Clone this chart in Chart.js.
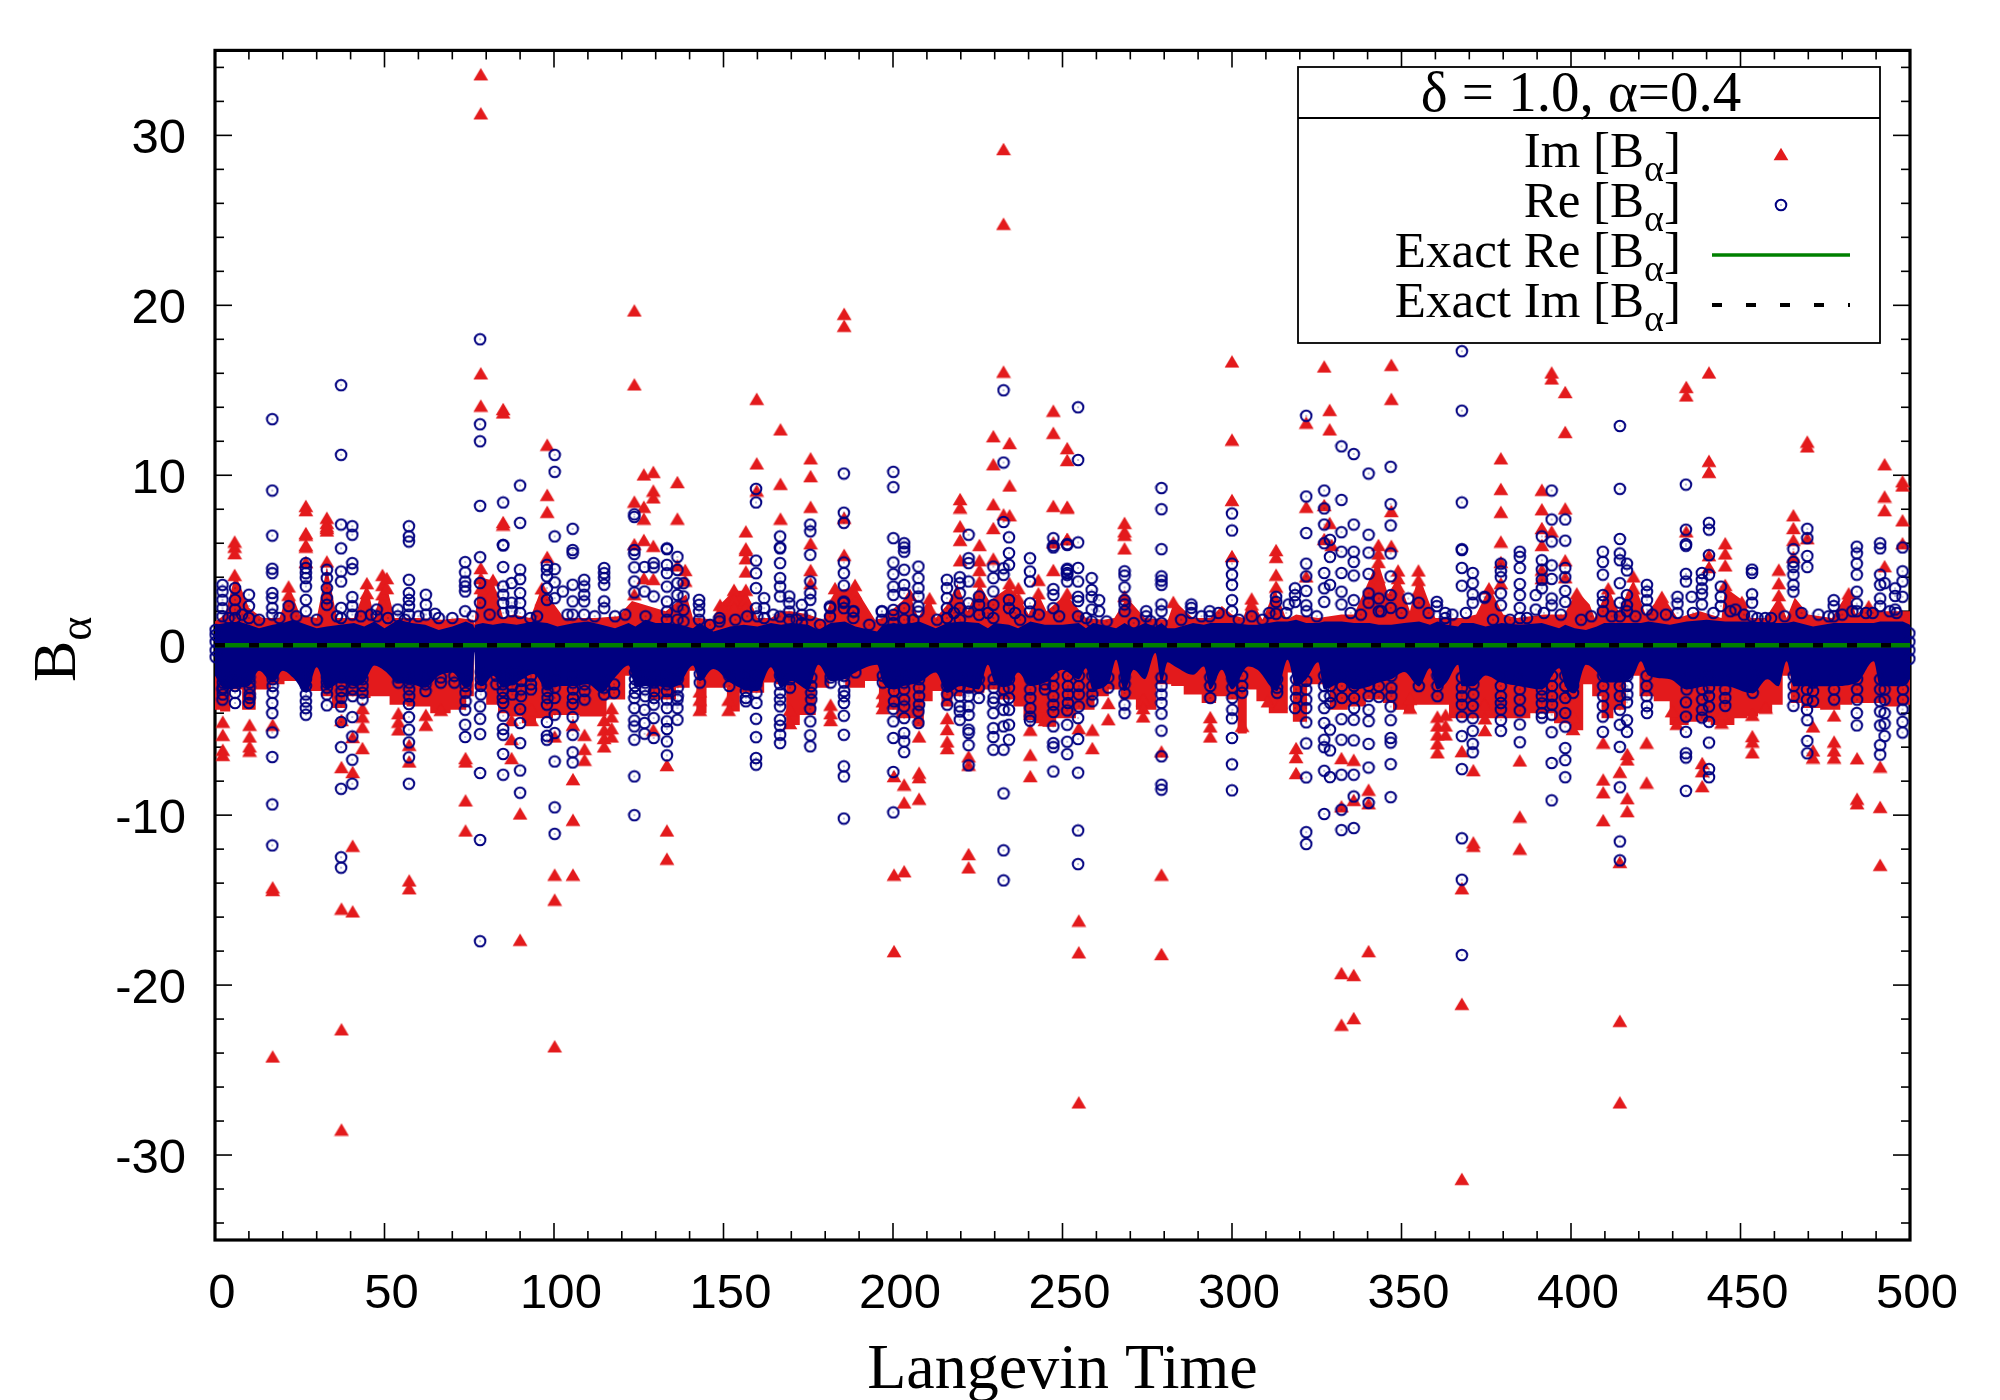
<!DOCTYPE html>
<html lang="en">
<head>
    <meta charset="UTF-8">
    <title>Langevin Time</title>
    <script src="https://cdn.jsdelivr.net/npm/chart.js"></script>
    <style>
        body {
            margin: 0;
            background: #ffffff;
        }

        canvas {
            display: block;
        }
    </style>
</head>
<body>
    <canvas id="chart" width="2000" height="1400"></canvas>

    <script>
        const xTicks = [0, 50, 100, 150, 200, 250, 300, 350, 400, 450, 500];
        const yTicks = [-30, -20, -10, 0, 10, 20, 30];
        const legendTitle = 'δ = 1.0, α=0.4';
        const legendRows = ['Im [B', 'Re [B', 'Exact Re [B', 'Exact Im [B'];
        const exactTimes = [0, 500];
        const exactRe = [0, 0];
        const exactIm = [0, 0];

        // each row: time, then the values read at that time
        const imColumns = [
            [2.3, -4.5, -5.27, -6.15, -6.45], [5.8, 6.1, 5.8, 5.42, 4.14], [10.2, -4.68, -5.37, -5.95, -6.2],
            [17, -4.68, -14.25, -14.4, -24.2], [21.7, 3.46, 2.97], [26.8, 8.2, 7.95, 6.6, 6.5, 5.9, 5.8, 4.9],
            [33, 7.5, 7, 6.75, 7.2, 6.9, 4.93], [37.3, -15.5, -22.6, -28.5, -7.17, -4.4],
            [40.6, -15.66, -11.8, -7.46, -5.4], [43.5, -6.05, -4.8, -4.2, -3.7], [44.8, 3.65, 3.07],
            [49.4, 4.14, 3.55, 3, 2.4], [50.7, 3.95, 3.36], [54.1, -4, -4.5, -4.95],
            [57.3, -13.84, -14.3, -5.86, -6.84], [62.2, -4.09, -4.68], [66.6, -3.8],
            [73.9, -6.64, -6.84, -9.13, -10.9], [78.4, 33.6, 31.3, 16, 14.1, 4.54, 3.95, 3.36],
            [82, 3.85, 3.16, 2.5], [85, 13.9, 13.7, 7.25, 7.1], [87.5, -6.64, -5.52, -4.4],
            [90, -9.9, -17.33], [93.4, -4.4, -3.8], [96.4, 3.35, 2.67],
            [98, 11.8, 8.85, 7.85, 5.2], [100.2, -13.5, -14.97, -23.6, -5.37],
            [105.6, -13.5, -7.88, -10.27, -4.68], [109, -6.74, -6.1, -5.27],
            [114.8, -5.95, -5.46, -4.97, -4.4], [117, -5.37, -4.88, -4.19, -3.7],
            [123.7, 19.7, 15.35, 8.45, 5.95, 3], [126.5, 10.05, 8.15, 7.45, 6.2, 3.95],
            [129.3, 10.2, 9.1, 8.7, 5.85, 3.9, -4.97], [133.3, -10.9, -12.56, -7.05],
            [136.4, 9.6, 7.45, 4.7], [138.7, 4.43, 3.8], [143, -3.8, -3.2, -2.72],
            [149, 2.38, 1.98], [151.5, -3.8, -3.2], [153.1, 3.26, 2.67, 2.18], [156.6, 6.7, 5.7, 5.6, 5.12, 4.34, 3.26, 2.67, 2.18],
            [159.8, 14.5, 10.7, 9.1], [166.8, 12.7, 9.5, 7.45], [169.6, -3.8, -4.58],
            [175.7, 11, 9.95, 8.15, 6, 4.43, 3.65], [181.6, -3.5, -4, -4.4], [182.9, 3.36, 2.77],
            [185.6, 19.5, 18.8, 7.5, 5.32], [188.8, 3.55, 3.06, 2.57], [197, -2.8, -3.3, -3.7],
            [200.3, -18, -13.5, -7.7], [203.3, -13.3, -8.2, -9.25], [205, 2.96],
            [207.7, -9.03, -7.5, -7.76, -5.37], [210.8, 2.77, 2.18], [216, -4.29, -4.93, -5.66, -6.05],
            [219.8, 8.6, 8.1, 7, 6.2, 5],
            [222.3, -12.29, -13.07, -6.54, -7.03], [225.5, 5.9, 5, 4.43, 3.75], [229.6, 12.3, 10.65, 8.3, 6.9, 5.1],
            [232.6, 29.2, 24.8, 16.1, 7.7], [234.4, 11.9, 9.4, 7.65, 3.65, 3.16], [237, 3.36, 2.77],
            [240.5, -6.44, -7.7, -4.97], [242.9, 3.85, 3.06], [244.8, -3.6, -4.4], [247.3, 13.8, 12.5, 8.2, 6.05, 4.43],
            [251.4, 11.6, 10.9, 8.15, 8.1, 6.25, 6.25, 3.05], [254.8, -16.2, -18.07, -26.9, -4.88],
            [258.8, -4.97, -6.05], [263.5, -3.4, -4.35], [268.3, 7.2, 6.7, 6.5, 5.7, 2.9], [273.8, -3.2, -3.7, -4.19],
            [279.2, -13.5, -18.17, -6.25], [282.7, 2.55], [293.6, -4.23, -4.78, -5.37],
            [300, 16.7, 12.1, 8.55, 5.25], [303, -4.74], [305.8, 2.75, 2.4], [310.6, -3.3],
            [313, 5.6, 5.2, 4.15, 3.45], [314.3, -3.4], [318.9, -6.05, -6.58, -7.52],
            [321.9, 13.1, 8.15, 4.05], [327.2, 16.4, 8.25, 6.25], [328.8, 13.85, 12.7, 7.2], [329.4, 5.9],
            [332.3, -19.29, -22.33, -6.64, -9.48], [335.9, -19.4, -21.94, -6.74, -9.1],
            [340.3, -18, -8.5, -9.3], [343.2, 5.9, 5.4, 4.9, 4, 3.55],
            [347, 16.5, 14.5, 7.9, 5.85], [349, 4.4, 3.95, 3.45], [352.5, -3.67, -3.15],
            [355, 4.4, 3.85, 3.25], [360.6, -6.3, -5.77, -5.25, -4.72, -4.2], [363, -5.25, -4.72, -4.09],
            [367.8, -14.3, -21.1, -31.4, -6.23], [371.2, -11.6, -11.8, -7.35], [374.6, -4.99, -4.3, -3.46],
            [375.8, 3.35], [379.3, 11, 9.2, 7.85, 6.1, 4.9, 3.65], [384.9, -10.08, -11.97, -6.78],
            [391.4, 9.15, 8, 6.9, 5.9, 4.45, 3.95], [394.3, 16.05, 15.7, 6.7], [398.3, 14.9, 12.55, 8.05, 5, 4],
            [400.6, -4.93, -4.2], [401.7, 3.05], [409.5, -7.9, -8.65, -10.29, -5.73], [411, 3.35],
            [414.4, -22.1, -26.9, -12.75, -7.45], [416.6, -9, -9.76, -6.4, -6.72], [418.4, 4.05, 3.35, 2.75],
            [422.3, -5.73, -8.08], [426.8, 2.85], [429.8, -3.88], [431.2, -4.62],
            [434, 15.2, 14.7, 6.7], [438.7, -6.93, -7.41, -8.29], [440.7, 16.05, 10.85, 10.2, 5.3, 4.6],
            [444.4, -4.55, -3.99], [445.5, 6, 5.4, 4.7, 3.55], [450.4, 2.55], [453.5, -5.35, -5.67, -6.3, -4.09],
            [457.4, -3.67], [461.3, 4.45, 3.65, 2.95, 2.4], [465.6, 7.65, 6.9, 6.2, 5.2],
            [469.7, 11.98, 11.7, 6.3], [471.4, -4.78, -6.19, -6.61], [477.6, -4.13, -5.67, -6.19, -6.61],
            [481.9, 3.05], [484.4, -6.65, -9.03, -9.3], [487.8, 2.3], [491.2, -7.14, -9.51, -12.92],
            [492.5, 10.65, 8.75, 7.95, 4.65], [497.8, 9.65, 9.4, 7.35, 6]
        ];

        const reColumns = [
            [0.2, 0.9, 0.6, 0.2, -0.3, -0.7], [2.2, 3.55, 3.16, 2.67, 2.18, 1.7, -2.6, -3.2],
            [5.9, 3.36, 2.67, 2.1, 1.6, -2.8, -3.4], [10, 2.97, 2.3, 1.6, -3.4],
            [16.9, 13.3, 9.1, 6.45, 4.5, 4.24, 3.07, 2.77, 2.2, 1.8, -3.4, -4, -5.13, -6.58, -9.37, -11.78],
            [21.7, 2.3], [26.8, 4.83, 4.54, 4.24, 3.95, 3.46, 2.67, 2, -2.9, -3.31, -3.7, -4.09],
            [33, 4.44, 3.95, 3.36, 2.77, 2.38, -2.9, -3.54],
            [37.2, 15.3, 11.2, 7.1, 5.7, 4.34, 3.75, 2.2, 1.6, -3.6, -4.52, -6, -8.45, -12.48, -13.09],
            [40.5, 7, 6.5, 4.83, 4.48, 2.83, 2.3, 1.8, -4.23, -5.37, -6.74, -8.15],
            [47.7, 2.1, 1.7], [53.9, 2.1, 1.7],
            [57.2, 7, 6.4, 6.1, 3.85, 3.07, 2.67, 2.3, 1.8, -3.46, -4.23, -4.97, -5.72, -6.6, -8.15],
            [62.2, 2.97, 2.38, 1.8], [64.9, 1.85], [73.8, 4.89, 4.28, 3.75, 3.46, 3.16, 2, -3.8, -4.68, -5.4],
            [78.2, 18, 13, 12, 8.2, 5.18, 3.66, 2.5, -3.6, -4.33, -5.23, -7.52, -11.46, -17.42],
            [85, 8.4, 5.9, 5.87, 4.6, 3.46, 2.97, 2.48, 1.9, -3.4, -4.15, -4.93, -5.27, -6.4, -7.62],
            [87.5, 3.66, 2.5, 2],
            [90, 9.4, 7.2, 4.44, 3.89, 3.07, 2.48, 1.9, -3.76, -4.58, -5.76, -7.37, -8.68],
            [97.9, 4.73, 4.44, 4.05, 3.36, 2.67, -3.5, -4.52, -5.33, -5.56],
            [100.2, 11.2, 10.2, 6.4, 4.48, 3.7, 2.77, -4.09, -5.17, -6.84, -9.54, -11.1], [102.6, 3.16],
            [105.5, 6.85, 5.6, 5.42, 3.56, 2.58, 1.8, -3.46, -4.23, -5.27, -6.3, -6.9],
            [108.9, 3.85, 3.46, 2.97, 2.58, 1.8], [114.8, 4.54, 4.24, 3.95, 3.56, 2.58, 2.18],
            [123.7, 7.7, 7.55, 5.6, 5.36, 4.58, 3.75, 3.1, -3.11, -3.7, -4.43, -4.78, -5.56, -7.72, -10],
            [126.7, 4.6, 3.16, -3.8, -4.58, -5.21], [129.4, 4.83, 4.58, 2.87, -3.5, -4.29, -5.46],
            [133.3, 5.7, 5.65, 4.73, 4.24, 3.45, 2.57, 1.98, 1.5, -3.7, -4.48, -4.93, -5.66, -6.48],
            [136.4, 5.2, 4.43, 3.65, 2.96, 2.28, 1.5, -3.2, -3.7, -4.39], [138.2, 3.65, 2.87, 2.08, 1.4],
            [142.8, 2.67, 2.38, 1.98, 1.5], [148.8, 1.4], [156.6, -3.3],
            [159.6, 9.2, 8.4, 4.98, 4.24, 3.36, 2.18, -4.33, -5.41, -6.64, -7.03], [162, 2.77, 2.18, 1.6],
            [166.7, 6.4, 5.75, 5.7, 4.83, 3.95, 3.45, 2.87, 1.69, -3.6, -4.39, -4.74, -5.27, -5.76],
            [169.4, 2.87, 2.47, 1.98, 1.5], [173.1, 2.38, 1.79, 1.3],
            [175.6, 7.1, 6.7, 5.32, 3.75, 3.06, 2.67, 1.79, -3.74, -4.48, -5.3, -5.95],
            [181.4, 2.28, 1.69],
            [185.5, 10.1, 7.8, 7.2, 4.87, 4.24, 3.51, 2.57, 2.18, -3.4, -4.15, -5.27, -7.13, -7.72, -10.2],
            [188.3, 1.98, 1.6], [196.7, 1.98, 1.5],
            [200.1, 10.2, 9.3, 6.3, 4.87, 4.18, 3.45, 2.96, 2.08, 1.79, 1.3, -3.74, -4.48, -5.46, -7.46, -9.84],
            [203.3, 6, 5.75, 5.5, 4.44, 3.55, 3.06, 2.18, 1.5, -3.6, -4.29, -5.17, -5.66, -6.29],
            [207.5, 4.63, 3.95, 3.36, 2.87, 2.28, 1.98, -3.9, -4.58], [215.9, 3.85, 3.36, 2.77, 2.18, 1.6],
            [219.7, 4, 3.65, 3.06, 2.18, 1.5, -3.9, -4.39],
            [222.3, 6.5, 5.12, 4.83, 3.75, 2.47, 1.98, -4.97, -5.17, -5.88, -7.07], [225.4, 2.87, 2.38, 1.79],
            [229.6, 4.63, 3.95, 3.16, 2.38, 1.6, -3.37, -4, -4.88, -5.4, -6.15],
            [232.6, 15, 10.75, 7.25, 4.53, 4.14, -3.8, -4.78, -6.15, -8.72, -12.07, -13.84],
            [234.2, 6.35, 5.42, 4.73, 2.67, 2.18, -3.8, -4.68, -5.56], [237.5, 1.5], [240.4, 5.12, 4.34, 3.75, 2.47, 1.98, -4.44],
            [247.3, 6.3, 5.75, 5.85, 3.3, 2.96, 2.18, -3.93, -4.78, -5.76, -6, -7.43], [251.4, 5.95, 5.9, 4.5, 4.25, 3.75, 4.43, 4.14, -3.84, -4.68, -5.68, -6.41],
            [254.6, 14, 10.9, 6.05, 4.55, 3.75, 2.85, 2.6, 1.7, -4.29, -5.52, -7.5, -10.9, -12.88],
            [258.6, 3.95, 3.25, 2.85, 2.1, 1.4], [260.8, 2.65, 2],
            [268.3, 4.35, 4.1, 3.4, 2.65, 2.4, 2, -2.82, -3.5, -4], [274.7, 2, 1.7],
            [279.2, 9.25, 8, 5.65, 4.05, 3.8, 3.55, 2.4, 2, 1.3, -4.03, -5.03, -6.54, -8.21, -8.5],
            [288, 2.4, 2.2, 1.9], [293.4, 2, 1.7],
            [300, 7.75, 6.75, 4.8, 4.15, 3.55, 2.65, 2, -4.3, -5.46, -7.01, -8.54], [305.8, 1.7],
            [313, 2.85, 2.55, 1.85], [316.7, 2.4], [318.6, 3.35, 2.95, 2.55, -3.7],
            [321.9, 13.5, 8.75, 6.6, 4.8, 4.05, 3.2, 2.35, -4.54, -5.78, -7.78, -11, -11.7],
            [327.2, 9.1, 8.05, 7.1, 6, 4.25, 3.35, 2.55, -3.7, -4.58, -5.56, -6, -7.39, -9.93],
            [328.9, 6.2, 5.2, 3.55, -4.97, -6.19, -7.76],
            [332.3, 11.7, 8.55, 6.65, 5.5, 4.25, 3.15, 2.4, -4.35, -5.56, -7.62, -9.68, -10.88],
            [335.9, 11.25, 7.1, 5.5, 4.9, 4.1, 2.65, -4.39, -5.6, -7.62, -8.9, -10.76],
            [340.3, 10.1, 6.5, 5.45, 4.2, 3.05, 2.5, -4.47, -5.81, -7.2, -9.28], [343.3, 2.75, 2, -3.04, -2.41],
            [346.8, 10.5, 8.3, 7.05, 5.4, 4.05, 2.95, 2.2, -3.61, -4.41, -5.46, -5.73, -7, -8.94],
            [352, 2.75], [355.1, 2.5, -2.41], [360.4, 2.55, 2.3], [362.9, 1.9, 1.6, 1.3],
            [367.8, 17.3, 13.8, 8.4, 5.65, 5.6, 4.55, 3.5, -3.5, -4.2, -5.35, -7.29, -11.36, -13.8, -18.23],
            [371, 4.25, 3.65, 3, 2.5, -3.57, -4.3, -5.04, -5.8, -6.3], [374.5, 2.85, 2.8],
            [379.3, 4.8, 4.35, 4, 3.05, 2.35, -3.78, -4.41, -5.04],
            [384.9, 5.5, 5.2, 4.55, 3.6, 2.95, 2.2, 1.6, -3.84, -4.66, -5.71], [389.6, 2.95, 2.1],
            [391.4, 6.4, 5, 4.45, 3.85, 3.35, -3.42, -3.99, -4.26],
            [394.3, 9.1, 7.4, 6.1, 4.7, 3.9, 2.75, 2.35, -4.09, -5.12, -6.93, -9.13],
            [398.3, 7.4, 6.15, 4.55, 4, 3.2, 2.55, -3.99, -4.79, -6.05, -6.76, -7.77],
            [409.4, 5.5, 4.9, 4.15, 2.95, 2.55, 2, -3.57, -4.2, -5.1],
            [414.4, 12.9, 9.2, 6.25, 5.4, 5, 3.65, 2.5, 1.7, -4.68, -5.98, -8.36, -11.55, -12.66],
            [416.5, 4.8, 4.4, 2.95, 2.35, 2, -3.36, -4.41, -5.1], [422.4, 3.55, 3.15, 2.65, 2.1, -3.57, -3.99],
            [431.4, 2.85, 2.45, 1.9], [433.9, 9.45, 6.8, 5.95, 5.85, 4.2, 3.75, -3.36, -4.2, -5.1, -6.36, -6.61, -8.57],
            [435.6, 2.85], [438.6, 4.25, 3.85, 3.35, 3, 2.4, -4.26],
            [440.7, 7.2, 6.8, 5.3, 4.15, -3.61, -4.51, -5.73, -7.29, -7.77], [444.2, 3.45, 2.85, 2.3], [445.5, -3.57],
            [448.5, 2.1], [453.4, 4.45, 4.25, 3, 2.5, 1.7], [457.3, 1.6],
            [465.6, 5.65, 4.9, 4.6, 4.15, 3.55, 3.15, -3.57], [469.7, 6.85, 6.3, 5.25, 4.6, -4.41, -5.63, -6.36],
            [477.5, 2.65, 2.3, 1.7], [484.3, 5.8, 5.4, 4.8, 4.15, 3.15, 2.45, 2, -3.99, -4.72],
            [491.2, 6, 5.7, 4.15, 3.55, 2.75, 2.3, -4.72, -5.88, -6.44], [492.5, 3.65, -3.99, -4.62, -5.35],
            [495.6, 3.35, 2.9, 2.1], [497.8, 5.75, 4.35, 3.75, 2.85, -3.78, -4.51, -5.14],
            [499.8, 0.7, 0.2, -0.3, -0.8]
        ];

        // tightly stacked rings just under the solid part of the cloud
        const reLowerStacks = [
            [2.3, -1.9, -2.2, -2.5, -2.9], [5.9, -1.8, -2.1, -2.4], [10.2, -1.9, -2.2, -2.5, -2.9, -3.1], [17, -1.7, -2, -2.4, -2.8],
            [26.8, -1.7, -2, -2.4], [33, -1.9, -2.2, -2.5], [37.3, -1.9, -2.3, -2.7, -3.1], [40.6, -2.2, -2.6, -3],
            [43.5, -2, -2.4, -2.8, -3.2], [54.1, -1.9, -2.2], [57.3, -1.9, -2.2, -2.6, -3], [62.1, -1.9, -2.3, -2.7],
            [66.6, -1.9, -2.2], [70.6, -1.8, -2.2], [73.9, -2, -2.4, -2.8, -3.3], [78.4, -1.6, -2, -2.4, -2.9],
            [83, -1.8, -2.3], [84.9, -1.9, -2.3, -2.7, -3.1], [87.7, -1.6, -2, -2.4, -2.9], [90.3, -1.6, -2.1, -2.6, -3],
            [93.2, -1.8, -2.3, -2.6], [98.1, -1.9, -2.3, -2.7, -3.1], [100.2, -1.7, -2.1, -2.5, -3.1], [105.6, -1.8, -2.2, -2.6, -3.1],
            [109, -2.3, -2.7, -3.2], [114.8, -2.1, -2.5, -2.9], [117.7, -2.3, -2.8], [123.9, -1.6, -2, -2.4, -2.8],
            [126.9, -1.8, -2.2, -2.6, -3], [129.5, -1.8, -2.2, -2.7, -3.1], [133.3, -1.8, -2.3, -2.7, -3.2], [136.5, -1.6, -2, -2.5, -3],
            [143, -1.7, -2.2], [151.7, -1.8, -2.4], [156.6, -1.8, -2.3, -2.7, -3.1], [159.7, -1.8, -2.3, -2.8, -3.4],
            [166.7, -1.8, -2.3, -2.8, -3.2], [169.6, -2, -2.5], [175.9, -1.9, -2.4, -2.8, -3.2], [181.6, -1.9, -2.2],
            [185.6, -1.8, -2.2, -2.7, -3], [188.9, -1.6], [197, -1.8, -2.2], [200.3, -1.8, -2.2, -2.7, -3.3],
            [203.3, -1.7, -2.2, -2.6, -3.2], [207.7, -2, -2.5, -3, -3.5], [216, -1.9, -2.4, -2.9, -3.5], [219.7, -1.9, -2.4, -3, -3.6],
            [222.3, -2, -2.5, -3, -3.6, -4.1], [225.3, -2, -2.5, -3.1], [229.7, -2, -2.5, -3.1], [232.6, -2.1, -2.6, -3.2],
            [234.2, -2, -2.5, -3.1], [240.5, -2, -2.6, -3.1, -3.7, -4.2], [244.8, -1.8, -2.3, -2.6], [247.3, -1.8, -2.4, -3, -3.5],
            [251.6, -1.8, -2.4, -2.9, -3.4], [254.8, -1.8, -2.4, -2.9, -3.6], [258.8, -1.8, -2.4, -2.9, -3.3], [263.5, -1.9, -2.5],
            [268.3, -1.9, -2.3], [279.2, -1.9, -2.4, -2.9, -3.4], [293.6, -1.9, -2.4, -3.1], [300.1, -2, -2.5, -3.1, -3.8],
            [303, -1.8, -2.4, -2.8], [313.3, -2, -2.5, -2.8], [318.9, -2, -2.6, -3.1], [321.9, -2.1, -2.6, -3.2, -3.7],
            [327.2, -1.8, -2.4, -3], [329, -1.8, -2.4, -3, -3.4], [332.4, -1.8, -2.4, -3.1], [336, -1.8, -2.4, -3.1, -3.7],
            [340.3, -1.8, -2.4, -3, -3.8], [347, -1.8, -2.5, -3], [360.6, -1.8, -2.4, -3], [367.8, -1.9, -2.5, -3],
            [371.2, -1.8, -2.3, -2.9], [379.3, -1.8, -2.4, -3, -3.4], [384.9, -2, -2.6, -3.2], [391.4, -2, -2.6, -3],
            [394.4, -1.8, -2.4, -3, -3.5], [398.3, -1.8, -2.4, -3.1], [400.6, -1.8, -2.4, -2.8], [409.5, -1.8, -2.4, -3],
            [414.4, -1.8, -2.4, -3, -3.8], [416.6, -1.8, -2.4, -2.9], [422.3, -1.8, -2.4, -3], [434.1, -2, -2.6],
            [438.7, -2, -2.6, -3.2, -3.8], [440.7, -1.8, -2.5, -3], [445.5, -2, -2.6, -3.1], [453.6, -1.8, -2.3, -2.8],
            [465.7, -1.8, -2.4, -3], [469.6, -2, -2.6, -3.2, -3.8], [471.4, -2.2, -2.7, -3.3], [477.6, -2, -2.6, -3.2],
            [484.4, -2, -2.6, -3.2], [491.2, -2, -2.6, -3.3, -3.9], [492.5, -2, -2.6, -3.2], [497.9, -2, -2.6, -3.2]
        ];

        // low rings along the top of the solid part
        const reUpperStacks = [
            [4, 1.6], [8, 1.8], [13, 1.5], [19, 1.6], [24, 1.7], [30, 1.5], [36, 1.7], [43, 1.7], [46, 1.8], [51, 1.6], [56, 1.5], [60, 1.7],
            [66, 1.6], [70, 1.6], [76, 1.7], [81, 1.8], [93, 1.6], [95, 1.7], [104, 1.8], [112, 1.7], [118, 1.7], [121, 1.8], [127, 1.7],
            [146, 1.2], [148.8, 1.6], [153.5, 1.5], [157, 1.7], [160, 1.7], [164.7, 1.8], [171.6, 1.5], [178.5, 1.2], [181.5, 2.2], [185.4, 2.5],
            [188.3, 2], [193, 1.2], [196.7, 2], [206, 1.5], [213, 1.5], [218, 1.9], [228, 1.9], [236, 1.9], [243, 1.8], [249, 1.7],
            [257, 1.6], [263, 1.4], [271, 1.3], [276, 1.4], [285, 1.5], [291, 1.7], [296, 1.9], [302, 1.5], [309, 1.5], [311, 1.9],
            [316, 1.9], [322, 2], [325, 1.7], [335, 1.9], [338, 1.8], [344, 2], [350, 1.9], [358, 1.9], [365, 1.8], [369, 1.9], [377, 1.5],
            [382, 1.5], [387, 1.6], [392, 1.9], [397, 1.8], [403, 1.5], [406, 1.7], [412, 1.7], [419, 1.7], [424, 1.8], [428, 1.8], [436, 1.9],
            [442, 1.9], [447, 2], [451, 1.8], [455, 1.6], [459, 1.6], [463, 1.7], [468, 1.9], [473, 1.8], [476, 1.7], [480, 1.8], [483, 2],
            [487, 1.9], [489, 1.9], [494, 2], [496, 1.9]
        ];

        // solid part of the clouds: time, upper edge, lower edge
        const imBand = [
            [0, 1.4, -3.8], [3, 1.8, -3.9], [6, 4.2, -2.6], [10, 2.2, -3.8], [14, 1.6, -2.6], [19, 1.6, -2.3], [22, 3.4, -2.1],
            [25, 1.8, -2.1], [30, 1.6, -2.7], [33, 4.6, -3], [36, 1.6, -3.7], [41, 1.6, -3], [44.8, 3.6, -3.1], [47, 1.6, -3],
            [50, 4, -3], [53, 1.6, -3.5], [60, 1.6, -3.6], [67, 1.5, -4], [72, 1.6, -3.8], [76.2, 1.5, -3], [76.5, 1.2, -0.4], [76.8, 1.8, -2.6],
            [78, 4, -2.6], [82, 3.8, -3.5], [85, 1.6, -4], [88, 1.8, -4.2], [93, 1.6, -4.6], [96.4, 3.4, -4.3], [103, 1.6, -4.1],
            [112, 1.6, -4.2], [119, 1.7, -3.2], [123, 2.6, -1.8], [133, 2, -3.2], [139, 3, -2.5], [141, 1.6, -1.5], [143, 1.6, -4],
            [147, 1.5, -2.5], [149, 2.4, -2.5], [153, 3.2, -3.9], [156.6, 3.2, -2.8], [160, 1.6, -2.8], [164, 1.6, -2.2], [167, 2, -2.3], [170, 2, -4.7],
            [175, 1.8, -4.1], [179.4, 1.5, -2.5], [183, 3.2, -2], [188.8, 3.4, -2.5], [194.7, 1.5, -2.1], [197, 1.6, -3.8],
            [205, 3, -4.3], [207.4, 1.6, -4.8], [210.8, 2.8, -3.3], [212.6, 1.6, -2.7], [216, 2.4, -3.6], [219, 3.6, -3], [222, 2, -2.8],
            [225.5, 3.6, -2.8], [228.4, 2.6, -2.6], [234, 3.4, -3.2], [237, 2.9, -3.6], [240, 1.8, -4.4], [242.9, 3, -4.6], [245.3, 2, -4.8],
            [251, 3, -4.3], [256.9, 1.6, -3.8], [262, 1.5, -3], [265.3, 1.6, -2.6], [269, 2.8, -3.2], [274.3, 1.6, -3.8], [281.1, 1.5, -2.3],
            [283, 2.6, -2.4], [288.5, 1.6, -2.9], [293.6, 1.6, -3.4], [297, 2.3, -3], [300, 1.8, -3.2], [303.3, 1.6, -5.2], [305.4, 2.8, -2.6],
            [309, 1.5, -3.3], [312.7, 3.3, -4], [315.9, 1.6, -4], [317, 1.6, -1.6], [318.9, 1.8, -4.5], [325.4, 1.6, -2.3], [332.3, 1.8, -3.8],
            [336, 1.8, -3.6], [343, 5, -3.2], [346, 3, -3.4], [349, 4, -3.8], [352.5, 2, -4], [355, 4.2, -3.5], [358, 2.6, -3.5], [360, 1.6, -3.5],
            [368, 1.6, -4.3], [372, 1.8, -4.3], [376, 3.4, -4.3], [380, 1.8, -4.3], [384, 1.6, -4.3], [392, 1.8, -4], [398, 1.8, -4.6],
            [401.7, 3.2, -5], [405.5, 2.4, -2.3], [407, 1.6, -3], [411, 3.4, -4.3], [414, 2, -3.8], [418.4, 3.8, -1.8], [422, 1.8, -3],
            [426.8, 3, -3.3], [431.4, 1.6, -4.7], [438, 2, -4.5], [444.4, 1.6, -4.7], [445.5, 3.4, -4.7], [450.9, 2.6, -4.3], [453, 1.6, -4.2],
            [457.4, 1.6, -4], [461.3, 2.8, -3.5], [463.6, 1.6, -1.8], [466, 2.8, -3.4], [470, 1.8, -3.7], [477, 1.6, -3.8], [481.9, 3.2, -3.5],
            [484, 1.8, -3.4], [487.8, 2.3, -3.4], [491, 2, -3.4], [494, 2, -3.6], [500, 2, -3.5]
        ];

        const reBand = [
            [0, 1.2, -1.8], [3, 1.3, -2.6], [7, 1.4, -2.5], [10, 1.2, -2.4], [13, 1, -1.5], [17, 1.2, -2.2], [20, 1.3, -1.5], [23, 1.5, -1.9],
            [27, 1.2, -2.8], [30, 1, -1.3], [33, 1.1, -2.6], [37, 1.2, -2.2], [41, 1.3, -2.4], [44, 1.1, -2.2], [47, 1.4, -1.2], [50, 1, -1.5],
            [54, 1.5, -2.2], [58, 1.3, -2.3], [62, 1.2, -2.5], [66, 0.9, -1.8], [70, 1.1, -1.6], [74, 1.4, -2.5], [76.2, 1.2, -2], [76.5, 1, -0.4],
            [76.8, 1.2, -1.6], [79, 1.3, -2.4], [82, 1.2, -1.8], [85, 1.3, -2.5], [89, 1.2, -2.2], [94, 1.4, -1.7], [98, 1.3, -2.6], [101, 1.1, -2.4],
            [106, 1.3, -2.4], [110, 1.4, -2.3], [114, 1.2, -2.8], [118, 1, -1.9], [122, 1.3, -1.2], [124, 1.1, -2.5], [127, 1.5, -2.4], [130, 1.3, -2.4],
            [134, 1.3, -2.5], [137, 1.2, -2.3], [141, 1, -1.2], [143, 1.3, -2.1], [147, 0.8, -1.4], [152, 1.1, -2.2], [156, 1.2, -2.6], [160, 1.1, -2.7],
            [164, 1.3, -1.3], [167, 1.2, -2.5], [170, 1.3, -2.1], [175, 1.2, -2.6], [178, 0.9, -1.15], [181.6, 1.3, -2.1], [185.8, 1.4, -2], [188.9, 1.1, -1.6],
            [195.3, 0.8, -1.15], [197, 1.2, -2.2], [200.3, 1.3, -2.6], [203, 1.2, -2.4], [207.7, 1.4, -2.2], [212.6, 1, -1.6], [216, 1.3, -2.8], [220, 1.4, -2.4],
            [225.3, 1.3, -2.6], [228, 1, -1.15], [230, 1.3, -2.2], [234.2, 1.2, -2.4], [236.9, 1, -1.6], [240.5, 1.4, -2.4], [244.8, 1.2, -2.2], [250, 1.2, -1.45],
            [254.8, 1.3, -2], [256.9, 1, -1.35], [259, 1.3, -2.6], [263.7, 1.1, -2.2], [265.8, 1, -0.85], [268.3, 1.3, -2.7], [271, 1, -1.45], [274.3, 1.3, -2],
            [277.4, 1.1, -0.46], [279.2, 1.3, -2.2], [281, 1, -1], [283.2, 1, -1.25], [288.5, 1.3, -1.74], [291.7, 1.2, -1.25], [293.6, 1.3, -2.6], [297, 1.3, -1.45],
            [300, 1.3, -2.6], [304.8, 1.2, -1.25], [307.5, 1.2, -1.45], [313.3, 1.4, -2.7], [316.4, 1.4, -0.85], [318.9, 1.5, -2.4], [321.9, 1.3, -2], [325.4, 1.3, -1],
            [327.2, 1.4, -2.6], [332.4, 1.4, -2.2], [336, 1.3, -2.6], [340.6, 1.3, -2.41], [343.3, 1.2, -2.2], [347, 1.2, -2], [350.8, 1.3, -1.57], [355.2, 1.4, -2.41],
            [358.4, 1.2, -1.36], [360.6, 1.4, -2.6], [363.3, 1.2, -2.2], [366.7, 1.1, -1.15], [367.8, 1.3, -2.41], [371.2, 1.3, -2.41], [374.8, 1.1, -1.78], [379.5, 1.3, -2.2],
            [384.9, 1.2, -2.41], [391.4, 1.3, -2.6], [396.5, 1, -1.36], [398.3, 1.2, -2.41], [401.1, 1, -2.83], [404.4, 0.9, -1.15], [407.6, 1.1, -1.57], [409.8, 1.3, -2.2],
            [414.4, 1.3, -2.2], [418.4, 1.3, -1.78], [420.6, 1.3, -0.94], [422.8, 1.4, -1.78], [429.2, 1.2, -2], [434.1, 1.4, -2.6], [440, 1.5, -2.41], [445.5, 1.4, -2.41],
            [453.6, 1.4, -2.83], [457.9, 1.3, -2], [461.2, 1.3, -2.41], [463.6, 1.3, -0.94], [465.7, 1.4, -2.41], [471.4, 1.1, -2.41], [477.4, 1.3, -2.41], [484.4, 1.3, -2.2],
            [489.3, 1.3, -0.94], [491.2, 1.4, -2.41], [497.9, 1.4, -2.41], [500, 1.2, -2]
        ];

        const RED = '#e31a1c';
        const NAVY = '#000080';
        const GREEN = '#008000';
        const SERIF = '"Liberation Serif"';

        const columnsToPoints = columns => columns.flatMap(([t, ...values]) => values.map(y => ({ x: t, y })));
        const bandEdge = (rows, col) => rows.map(row => ({ x: row[0], y: row[col] }));
        const pairUp = (xs, ys) => xs.map((x, i) => ({ x, y: ys[i] }));

        // open circle with a dot in the middle, as the plotting program draws it
        const ringMarker = (() => {
            const c = document.createElement('canvas');
            c.width = c.height = 14;
            const g = c.getContext('2d');
            g.strokeStyle = NAVY;
            g.lineWidth = 2;
            g.beginPath();
            g.arc(7, 7, 5.3, 0, Math.PI * 2);
            g.stroke();
            g.fillStyle = NAVY;
            g.fillRect(6.5, 6.5, 1, 1);
            return c;
        })();

        // filled triangle, centred on its bounding box
        const triangleMarker = (() => {
            const c = document.createElement('canvas');
            c.width = 16;
            c.height = 14;
            const g = c.getContext('2d');
            g.fillStyle = RED;
            g.beginPath();
            g.moveTo(8, 0.8);
            g.lineTo(15.4, 13.2);
            g.lineTo(0.6, 13.2);
            g.closePath();
            g.fill();
            return c;
        })();

        const markers = (label, data, style, radius) => ({
            label, data, type: 'scatter', pointStyle: style, pointRadius: radius, clip: false
        });
        const edge = (label, data, color, fill, extra) => ({
            label, data, type: 'line', pointRadius: 0, borderWidth: 0, borderColor: color, backgroundColor: color, fill, ...extra
        });

        const frameAndTicks = {
            id: 'frameAndTicks',
            beforeDatasetsDraw(chart) {
                const { ctx, chartArea: a, scales: { x, y } } = chart;
                ctx.save();
                ctx.strokeStyle = '#000';
                const mark = (x1, y1, x2, y2) => {
                    ctx.beginPath();
                    ctx.moveTo(x1, y1);
                    ctx.lineTo(x2, y2);
                    ctx.stroke();
                };
                ctx.lineWidth = 1.6;
                for (let v = 0; v <= 500; v += 10) {
                    const len = v % 50 === 0 ? 17 : 9;
                    const p = x.getPixelForValue(v);
                    mark(p, a.bottom, p, a.bottom - len);
                    mark(p, a.top, p, a.top + len);
                }
                for (let v = -34; v <= 34; v += 2) {
                    const len = v % 10 === 0 ? 17 : 9;
                    const p = y.getPixelForValue(v);
                    mark(a.left, p, a.left + len, p);
                    mark(a.right, p, a.right - len, p);
                }
                ctx.lineWidth = 3.2;
                ctx.strokeRect(a.left, a.top, a.right - a.left, a.bottom - a.top);
                ctx.restore();
            }
        };

        // draws "text + small alpha + ]" so that it ends at the given x
        const subscriptText = (ctx, text, right, baseline, size) => {
            ctx.textAlign = 'left';
            ctx.textBaseline = 'alphabetic';
            const main = `${size}px ${SERIF}`;
            const sub = `${Math.round(size * 0.75)}px ${SERIF}`;
            ctx.font = sub;
            const subWidth = ctx.measureText('α').width;
            ctx.font = main;
            const closeWidth = ctx.measureText(']').width;
            const textWidth = ctx.measureText(text).width;
            let x = right - closeWidth - subWidth - textWidth;
            ctx.fillText(text, x, baseline);
            x += textWidth;
            ctx.font = sub;
            ctx.fillText('α', x, baseline + size * 0.28);
            x += subWidth;
            ctx.font = main;
            ctx.fillText(']', x, baseline);
        };

        const keyBox = {
            id: 'keyBox',
            afterDatasetsDraw(chart) {
                const { ctx } = chart;
                ctx.save();
                ctx.fillStyle = '#fff';
                ctx.fillRect(1298, 67, 582, 276);
                ctx.strokeStyle = '#000';
                ctx.lineWidth = 1.8;
                ctx.strokeRect(1298, 67, 582, 276);
                ctx.beginPath();
                ctx.moveTo(1298, 118);
                ctx.lineTo(1880, 118);
                ctx.stroke();

                ctx.fillStyle = '#000';
                ctx.font = `57px ${SERIF}`;
                ctx.textAlign = 'center';
                ctx.textBaseline = 'alphabetic';
                ctx.fillText(legendTitle, 1581, 111);

                legendRows.forEach((row, i) => subscriptText(ctx, row, 1681, 167 + i * 50, 51));

                ctx.drawImage(triangleMarker, 1773, 147);
                ctx.drawImage(ringMarker, 1774, 198);

                ctx.strokeStyle = GREEN;
                ctx.lineWidth = 3.5;
                ctx.beginPath();
                ctx.moveTo(1712, 255);
                ctx.lineTo(1850, 255);
                ctx.stroke();
                ctx.strokeStyle = '#000';
                ctx.lineWidth = 4;
                ctx.setLineDash([10, 24]);
                ctx.beginPath();
                ctx.moveTo(1712, 305);
                ctx.lineTo(1850, 305);
                ctx.stroke();
                ctx.setLineDash([]);

                // y axis name, rotated
                ctx.translate(57, 644);
                ctx.rotate(-Math.PI / 2);
                ctx.fillStyle = '#000';
                ctx.font = `62px ${SERIF}`;
                ctx.textAlign = 'left';
                ctx.fillText('B', -38, 18);
                const w = ctx.measureText('B').width;
                ctx.font = `46px ${SERIF}`;
                ctx.fillText('α', -38 + w, 34);
                ctx.restore();
            }
        };

        new Chart(document.getElementById('chart'), {
            type: 'scatter',
            data: {
                // first in the list is drawn on top
                datasets: [
                    {
                        label: 'Exact Im', type: 'line', data: pairUp(exactTimes, exactIm), borderColor: '#000',
                        borderWidth: 4.5, borderDash: [10, 24], pointRadius: 0
                    },
                    {
                        label: 'Exact Re', type: 'line', data: pairUp(exactTimes, exactRe), borderColor: GREEN,
                        borderWidth: 4.5, pointRadius: 0
                    },
                    markers('Re', columnsToPoints(reColumns.concat(reLowerStacks, reUpperStacks)), ringMarker, 7),
                    edge('Re band top', bandEdge(reBand, 1), NAVY, '+1', {}),
                    edge('Re band bottom', bandEdge(reBand, 2), NAVY, false, { cubicInterpolationMode: 'monotone' }),
                    markers('Im', columnsToPoints(imColumns), triangleMarker, 8),
                    edge('Im band top', bandEdge(imBand, 1), RED, '+1', {}),
                    edge('Im band bottom', bandEdge(imBand, 2), RED, false, { stepped: 'middle' })
                ]
            },
            options: {
                responsive: false,
                animation: false,
                events: [],
                layout: { padding: { top: 46, right: 90 } },
                plugins: { legend: { display: false }, tooltip: { enabled: false }, title: { display: false } },
                scales: {
                    x: {
                        type: 'linear', min: 0, max: 500,
                        grid: { display: false }, border: { display: false },
                        afterBuildTicks: axis => { axis.ticks = xTicks.map(value => ({ value })); },
                        afterFit: axis => { axis.height = 160; },
                        ticks: {
                            autoSkip: false, maxRotation: 0, padding: 17, labelOffset: 7, color: '#000',
                            font: { family: '"Liberation Sans"', size: 49 }
                        },
                        title: {
                            display: true, text: 'Langevin Time', color: '#000', padding: { top: 0, bottom: -3 },
                            font: { family: SERIF, size: 64, lineHeight: 1 }
                        }
                    },
                    y: {
                        type: 'linear', min: -35, max: 35,
                        grid: { display: false }, border: { display: false },
                        afterBuildTicks: axis => { axis.ticks = yTicks.map(value => ({ value })); },
                        afterFit: axis => { axis.width = 215; },
                        ticks: {
                            autoSkip: false, padding: 21, labelOffset: 4, color: '#000',
                            font: { family: '"Liberation Sans"', size: 49 }
                        }
                    }
                }
            },
            plugins: [frameAndTicks, keyBox]
        });
    </script>
</body>
</html>
